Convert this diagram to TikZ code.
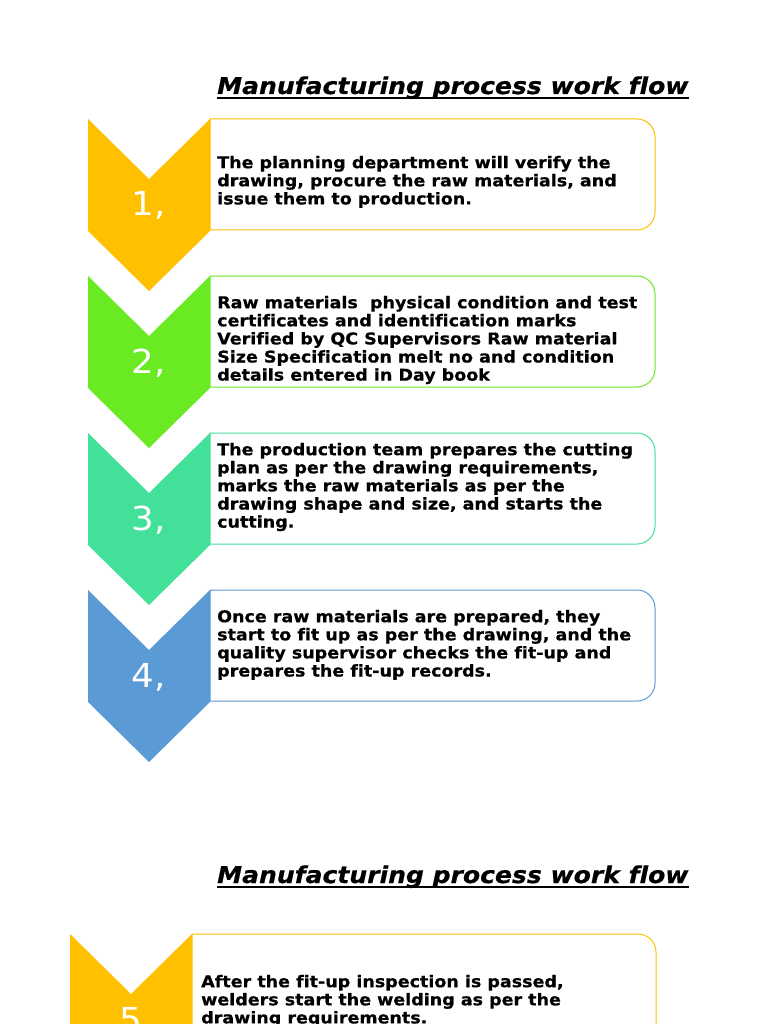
\documentclass[tikz,border=0pt]{standalone}
\usepackage{fontspec}
\setmainfont[FakeStretch=1.08,Ligatures=NoCommon]{DejaVu Sans}
\definecolor{cgold}{HTML}{FFC000}
\definecolor{clime}{HTML}{6AEA22}
\definecolor{cteal}{HTML}{43E09A}
\definecolor{cblue}{HTML}{5B9BD5}
\tikzset{
  boxline/.style={line width=1pt},
  steptext/.style={anchor=north west, inner sep=0pt, align=left,
    font=\fontsize{16.2}{18.1}\selectfont\bfseries\addfontfeature{FakeBold=0.6}, text=black},
  numtext/.style={anchor=base, inner sep=0pt, text=white,
    font=\fontsize{33}{33}\selectfont},
  titletext/.style={anchor=base west, inner sep=0pt,
    font=\fontsize{23.2}{26}\selectfont\bfseries\itshape\addfontfeature{FakeBold=0.6}},
}
% #1 left x of chevron, #2 top y, #3 colour, #4 right x of box, #5 name, #6 number, #7 text x, #8 first text baseline, #9 text
\newcommand\flowstep[9]{%
  \pgfmathsetmacro\xl{#1}\pgfmathsetmacro\xm{#1+61}\pgfmathsetmacro\xr{#1+122}%
  \pgfmathsetmacro\yt{#2}\pgfmathsetmacro\yn{#2+60}\pgfmathsetmacro\yb{#2+112}%
  \pgfmathsetmacro\yp{#2+172}\pgfmathsetmacro\ybx{#2+111}%
  \pgfmathsetmacro\xa{#4-18}\pgfmathsetmacro\xc{#4-8.1}%
  \pgfmathsetmacro\ya{#2+18}\pgfmathsetmacro\yc{#2+8.1}%
  \pgfmathsetmacro\yd{#2+111-18}\pgfmathsetmacro\ye{#2+111-8.1}%
  \draw[boxline, draw=#3, fill=white] (\xr,\yt) -- (\xa,\yt)
     .. controls (\xc,\yt) and (#4,\yc) .. (#4,\ya) -- (#4,\yd)
     .. controls (#4,\ye) and (\xc,\ybx) .. (\xa,\ybx) -- (\xr,\ybx) -- cycle;
  \fill[#3] (\xl,\yt) -- (\xm,\yn) -- (\xr,\yt) -- (\xr,\yb) -- (\xm,\yp) -- (\xl,\yb) -- cycle;
  \pgfmathsetmacro\nb{#2+97}%
  \node[numtext] (#5num) at (\xm,\nb) {#6};
  \pgfmathsetmacro\tb{#8-13}%
  \node[steptext] (#5text) at (#7,\tb) {\rule{0pt}{13pt}#9};
}
\begin{document}
\begin{tikzpicture}[x=1pt,y=-1pt]
\useasboundingbox (0,0) rectangle (768,1024);
\fill[white] (0,0) rectangle (768,1024);
\clip (0,0) rectangle (768,1024);

\node[titletext] (title1) at (217,94) {Manufacturing process work flow};
\draw[line width=1.4pt] ([yshift=-4pt]title1.base west) -- ([yshift=-4pt]title1.base east);

\flowstep{88}{119}{cgold}{655}{s1}{1,}{217}{168}{The planning department will verify the\\drawing, procure the raw materials, and\\issue them to production.}
\flowstep{88}{276}{clime}{655}{s2}{2,}{217}{308}{Raw materials\ \ physical condition and test\\certificates and identification marks\\Verified by QC Supervisors Raw material\\Size Specification melt no and condition\\details entered in Day book}
\flowstep{88}{433}{cteal}{655}{s3}{3,}{217}{455}{The production team prepares the cutting\\plan as per the drawing requirements,\\marks the raw materials as per the\\drawing shape and size, and starts the\\cutting.}
\flowstep{88}{590}{cblue}{655}{s4}{4,}{217}{622}{Once raw materials are prepared, they\\start to fit up as per the drawing, and the\\quality supervisor checks the fit-up and\\prepares the fit-up records.}

\node[titletext] (title2) at (217,883) {Manufacturing process work flow};
\draw[line width=1.4pt] ([yshift=-4pt]title2.base west) -- ([yshift=-4pt]title2.base east);

\flowstep{70}{934}{cgold}{656}{s5}{5}{201}{987}{After the fit-up inspection is passed,\\welders start the welding as per the\\drawing requirements.}
\end{tikzpicture}
\end{document}
